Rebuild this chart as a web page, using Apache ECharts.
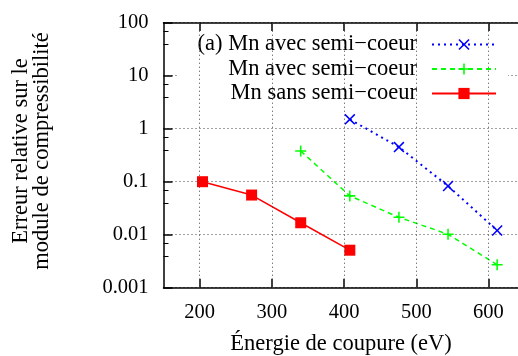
<!DOCTYPE html>
<html>
<head>
<meta charset="utf-8">
<script src="https://cdn.jsdelivr.net/npm/echarts@6/dist/echarts.min.js"></script>
<style>
  html, body { margin: 0; padding: 0; background: #fff; }
  #chart { width: 518px; height: 356px; }
</style>
</head>
<body>
<div id="chart"></div>
<script>
const seriesNames = ['(a) Mn avec semi−coeur', 'Mn avec semi−coeur', 'Mn sans semi−coeur'];
const xBlue = [408, 476, 544, 612];
const blueValues = [1.5, 0.45, 0.083, 0.012];
const xGreen = [340, 408, 476, 544, 612];
const greenValues = [0.38, 0.054, 0.0213, 0.0102, 0.0027];
const xRed = [204, 272, 340, 408];
const redValues = [0.1, 0.056, 0.0168, 0.0051];
const xTicks = [200, 300, 400, 500, 600];
const yTickLabels = ['0.001', '0.01', '0.1', '1', '10', '100'];

const FONT = '"Liberation Serif", "Times New Roman", serif';
const crossPath = 'path://M1,0L5,4L9,0L10,1L6,5L10,9L9,10L5,6L1,10L0,9L4,5L0,1Z';
const plusPath = 'path://M4.3,0H5.7V4.3H10V5.7H5.7V10H4.3V5.7H0V4.3H4.3Z';

const chart = echarts.init(document.getElementById('chart'));

const pairs = (xs, ys) => xs.map((x, i) => [x, ys[i]]);

const option = {
    animation: false,
    grid: { left: 163.5, top: 22.7, bottom: 68.3, right: -6.6, outerBoundsMode: 'none' },
    legend: {
        orient: 'vertical', align: 'right', right: 10, top: 31,
        padding: [2, 11, 2, 20], itemWidth: 64, itemHeight: 14, itemGap: 1.5,
        backgroundColor: '#fff',
        textStyle: { fontFamily: FONT, fontSize: 22.5, color: '#000', lineHeight: 22, padding: [0, 10, 0, 0] },
        data: seriesNames
    },
    graphic: [{
        type: 'text', x: 31.5, y: 151, rotation: Math.PI / 2,
        style: {
            text: 'Erreur relative sur le\nmodule de compressibilité',
            font: '22.5px ' + FONT, fill: '#000',
            align: 'center', verticalAlign: 'middle',
            textAlign: 'center', textVerticalAlign: 'middle', lineHeight: 21
        }
    }],
    xAxis: [{
        type: 'value', min: 150, max: 650, position: 'bottom',
        name: 'Énergie de coupure (eV)', nameLocation: 'middle', nameGap: 45,
        nameTextStyle: { fontFamily: FONT, fontSize: 22.5, color: '#000', padding: [0, 6, 0, 0] },
        axisLine: { lineStyle: { color: '#000', width: 1.5 } },
        axisTick: { inside: true, length: 9, customValues: xTicks, lineStyle: { color: '#000', width: 1.5 } },
        axisLabel: { customValues: xTicks, margin: 14, fontFamily: FONT, fontSize: 20.5, color: '#000' },
        splitLine: { show: false }
    }, {
        type: 'value', min: 150, max: 650, position: 'top',
        axisLine: { lineStyle: { color: '#000', width: 1.5 } },
        axisTick: { inside: true, length: 9, customValues: xTicks, lineStyle: { color: '#000', width: 1.5 } },
        axisLabel: { show: false },
        splitLine: { show: false }
    }],
    yAxis: {
        type: 'log', logBase: 10, min: 0.001, max: 100,
        axisLine: { show: true, lineStyle: { color: '#000', width: 1.5 } },
        axisTick: { inside: true, length: 9, lineStyle: { color: '#000', width: 1.5 } },
        minorTick: { show: true, splitNumber: 3, length: 5, lineStyle: { color: '#000', width: 1 } },
        axisLabel: {
            margin: 15, fontFamily: FONT, fontSize: 20.5, color: '#000',
            formatter: v => yTickLabels[Math.round(Math.log10(v)) + 3]
        },
        splitLine: { show: true, lineStyle: { type: [1, 3], color: '#444', width: 1 } }
    },
    series: [{
        name: seriesNames[0], type: 'line', data: pairs(xBlue, blueValues),
        symbol: crossPath, symbolSize: 11,
        lineStyle: { color: '#0000ff', width: 2, type: [2, 4] },
        itemStyle: { color: '#0000ff' }
    }, {
        name: seriesNames[1], type: 'line', data: pairs(xGreen, greenValues),
        symbol: plusPath, symbolSize: 11,
        lineStyle: { color: '#00ff00', width: 1.5, type: [5, 4] },
        itemStyle: { color: '#00ff00' }
    }, {
        name: seriesNames[2], type: 'line', data: pairs(xRed, redValues),
        symbol: 'rect', symbolSize: 11,
        lineStyle: { color: '#ff0000', width: 1.5 },
        itemStyle: { color: '#ff0000' },
        markLine: {
            silent: true, symbol: 'none', label: { show: false },
            lineStyle: { type: [1, 3], color: '#444', width: 1 },
            data: xTicks.map(v => ({ xAxis: v }))
        }
    }]
};

chart.setOption(option);
</script>
</body>
</html>
